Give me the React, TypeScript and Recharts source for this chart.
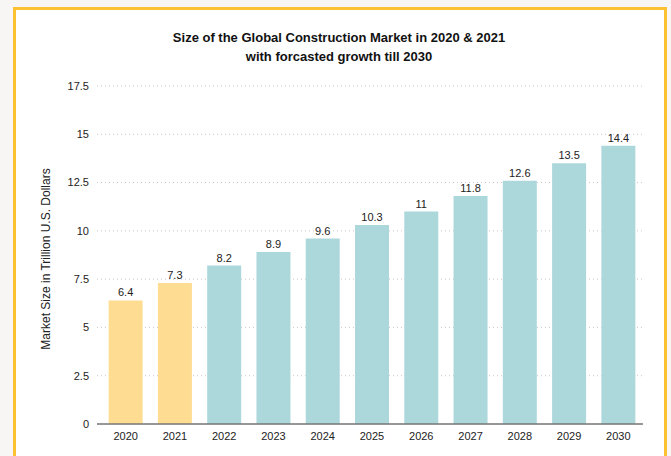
import { BarChart, Bar, XAxis, YAxis, CartesianGrid, Cell, LabelList } from 'recharts';

const years = ['2020', '2021', '2022', '2023', '2024', '2025', '2026', '2027', '2028', '2029', '2030'];
const marketSize = [6.4, 7.3, 8.2, 8.9, 9.6, 10.3, 11, 11.8, 12.6, 13.5, 14.4];
const actualYears = ['2020', '2021']; // the rest are forecasts
const yTicks = [0, 2.5, 5, 7.5, 10, 12.5, 15, 17.5];

const ACTUAL_COLOR = '#fedd92';
const FORECAST_COLOR = '#acd8dc';
const FONT = '"Liberation Sans", Arial, sans-serif';

const data = years.map((year, i) => ({ year, value: marketSize[i] }));

function YLabel({ viewBox }: any) {
    const cx = viewBox.x + 46;
    const cy = viewBox.y + viewBox.height / 2 + 4;
    return (
        <text
            x={cx}
            y={cy}
            transform={`rotate(-90, ${cx}, ${cy})`}
            textAnchor="middle"
            dominantBaseline="central"
            fill="#222"
            fontSize={12}
            fontFamily={FONT}
        >
            Market Size in Trillion U.S. Dollars
        </text>
    );
}

export default function App() {
    return (
        <div style={{ position: 'fixed', left: 0, top: 0, width: 671, height: 456, background: '#f7f6f4', overflow: 'hidden', fontFamily: FONT }}>
            <div style={{ position: 'absolute', left: 13, top: 7, width: 648, height: 500, border: '3px solid #fcc133', background: '#fff' }} />
            <div style={{ position: 'absolute', left: 0, top: 28, width: 678, textAlign: 'center', fontWeight: 'bold', fontSize: 13, lineHeight: '19px', color: '#111' }}>
                Size of the Global Construction Market in 2020 &amp; 2021
                <br />
                with forcasted growth till 2030
            </div>
            <div style={{ position: 'absolute', left: 0, top: 0 }}>
                <BarChart
                    width={671}
                    height={456}
                    data={data}
                    margin={{ top: 86, right: 28, bottom: 12, left: 0 }}
                    barCategoryGap="15.5%"
                >
                    <CartesianGrid vertical={false} stroke="#c8c8c8" strokeDasharray="1 3" />
                    <XAxis
                        dataKey="year"
                        height={20}
                        padding={{ left: 4, right: 0 }}
                        tickLine={false}
                        axisLine={{ stroke: '#777', strokeWidth: 1.5 }}
                        tick={{ fontSize: 11, fill: '#222', fontFamily: FONT }}
                        interval={0}
                    />
                    <YAxis
                        width={97}
                        domain={[0, 17.5]}
                        ticks={yTicks}
                        axisLine={false}
                        tickLine={false}
                        tick={{ fontSize: 11, fill: '#222', fontFamily: FONT }}
                        label={<YLabel />}
                    />
                    <Bar dataKey="value" isAnimationActive={false}>
                        {data.map((d) => (
                            <Cell
                                key={d.year}
                                fill={actualYears.includes(d.year) ? ACTUAL_COLOR : FORECAST_COLOR}
                            />
                        ))}
                        <LabelList dataKey="value" position="top" offset={4} style={{ fontSize: 11, fill: '#222', fontFamily: FONT }} />
                    </Bar>
                </BarChart>
            </div>
        </div>
    );
}
